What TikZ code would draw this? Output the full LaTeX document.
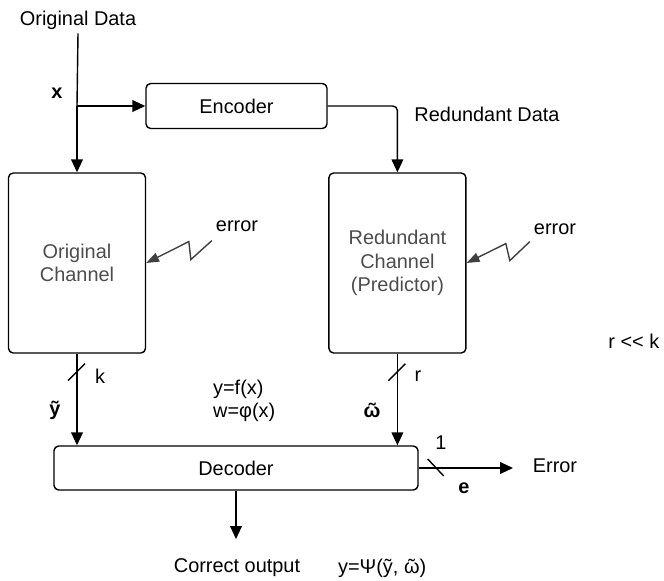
\documentclass[tikz,border=0pt]{standalone}
\usepackage{fontspec}
\setmainfont{Liberation Sans}
\usetikzlibrary{positioning,arrows.meta,calc}

\newcommand\tildeomega{\leavevmode\ooalign{ω\cr\hidewidth˜\hidewidth\cr}}

\begin{document}
\begin{tikzpicture}[x=0.03cm, y=-0.03cm, font=\fontsize{17}{20}\selectfont,
  block/.style={draw, line width=1.2pt, rounded corners=4pt, align=center},
  flow/.style={-{Triangle[length=11pt,width=10pt]}, line width=1.2pt},
  noise/.style={-{Triangle[length=11pt,width=8pt]}, line width=1.2pt, black!75},
  tick/.style={line width=1.2pt}]
\useasboundingbox (0,0) rectangle (664,580);

\node [block, minimum width=4.11cm, minimum height=5.4cm, text=black!70] (orig_ch) at (77,263) {Original\\Channel};
\node [block, minimum width=4.11cm, minimum height=5.4cm, text=black!70] (red_ch) [right=5.46cm of orig_ch] {Redundant\\Channel\\(Predictor)};
\node [block, minimum width=5.43cm, minimum height=1.35cm] (enc) at (236.5,106) {Encoder};
\node [block, minimum width=10.92cm, minimum height=1.32cm] (dec) at (236,468) {Decoder};

\node (orig_data) at (78,20) {Original Data};
\node (x_lbl) at (57,93) {\textbf{x}};
\node (red_data) at (487,114) {Redundant Data};
\node (err_a) at (237,226) {error};
\node (err_b) at (555,229) {error};
\node [anchor=west, inner sep=1pt] (ratio) at (607,341) {r {<}{<} k};
\node (k_lbl) at (100,376) {k};
\node (r_lbl) at (418,376) {r};
\node (y_lbl) at (55,410) {\textbf{ỹ}};
\node (w_lbl) at (372,412) {\textbf{\tildeomega}};
\node [align=left, anchor=west] (eqs) at (209,401) {y=f(x)\\w=φ(x)};
\node (one) at (441,443) {1};
\node (e_lbl) at (464,488) {\textbf{e}};
\node (err_txt) at (555,466) {Error};
\node (out_txt) at (237,568) {Correct output};
\node [anchor=west] (out_eq) at (334,568) {y=Ψ(ỹ, \tildeomega)};

\coordinate (split) at (orig_ch.north |- enc.west);
\coordinate (out_end) at (236,539);
\coordinate (err_end) at (513,468);

% data paths
\draw [line width=1.2pt] (orig_data.south) -- (split);
\draw [flow] (split) -- (orig_ch.north);
\draw [flow] (split) -- (enc.west);
\draw [flow, rounded corners=4pt] (enc.east) -| (red_ch.north);
\draw [flow] (orig_ch.south) -- (orig_ch.south |- dec.north);
\draw [flow] (red_ch.south) -- (red_ch.south |- dec.north);
\draw [flow] (dec.south) -- (out_end);
\draw [flow] (dec.east) -- (err_end);

% bus widths
\draw [tick] ($(orig_ch.south)+(-9,27)$) -- ++(17,-17);
\draw [tick] ($(red_ch.south)+(-9,27)$) -- ++(17,-17);
\draw [tick] ($(dec.east)+(9,-9)$) -- ++(16,17);

% noise
\draw [noise] (err_a.south west) ++(0,5) -- ++(-21,19) -- ++(-2,-18) -- (orig_ch.east);
\draw [noise] (err_b.south west) ++(0,3) -- ++(-20,19) -- ++(-4,-17) -- (red_ch.east);
\end{tikzpicture}
\end{document}
